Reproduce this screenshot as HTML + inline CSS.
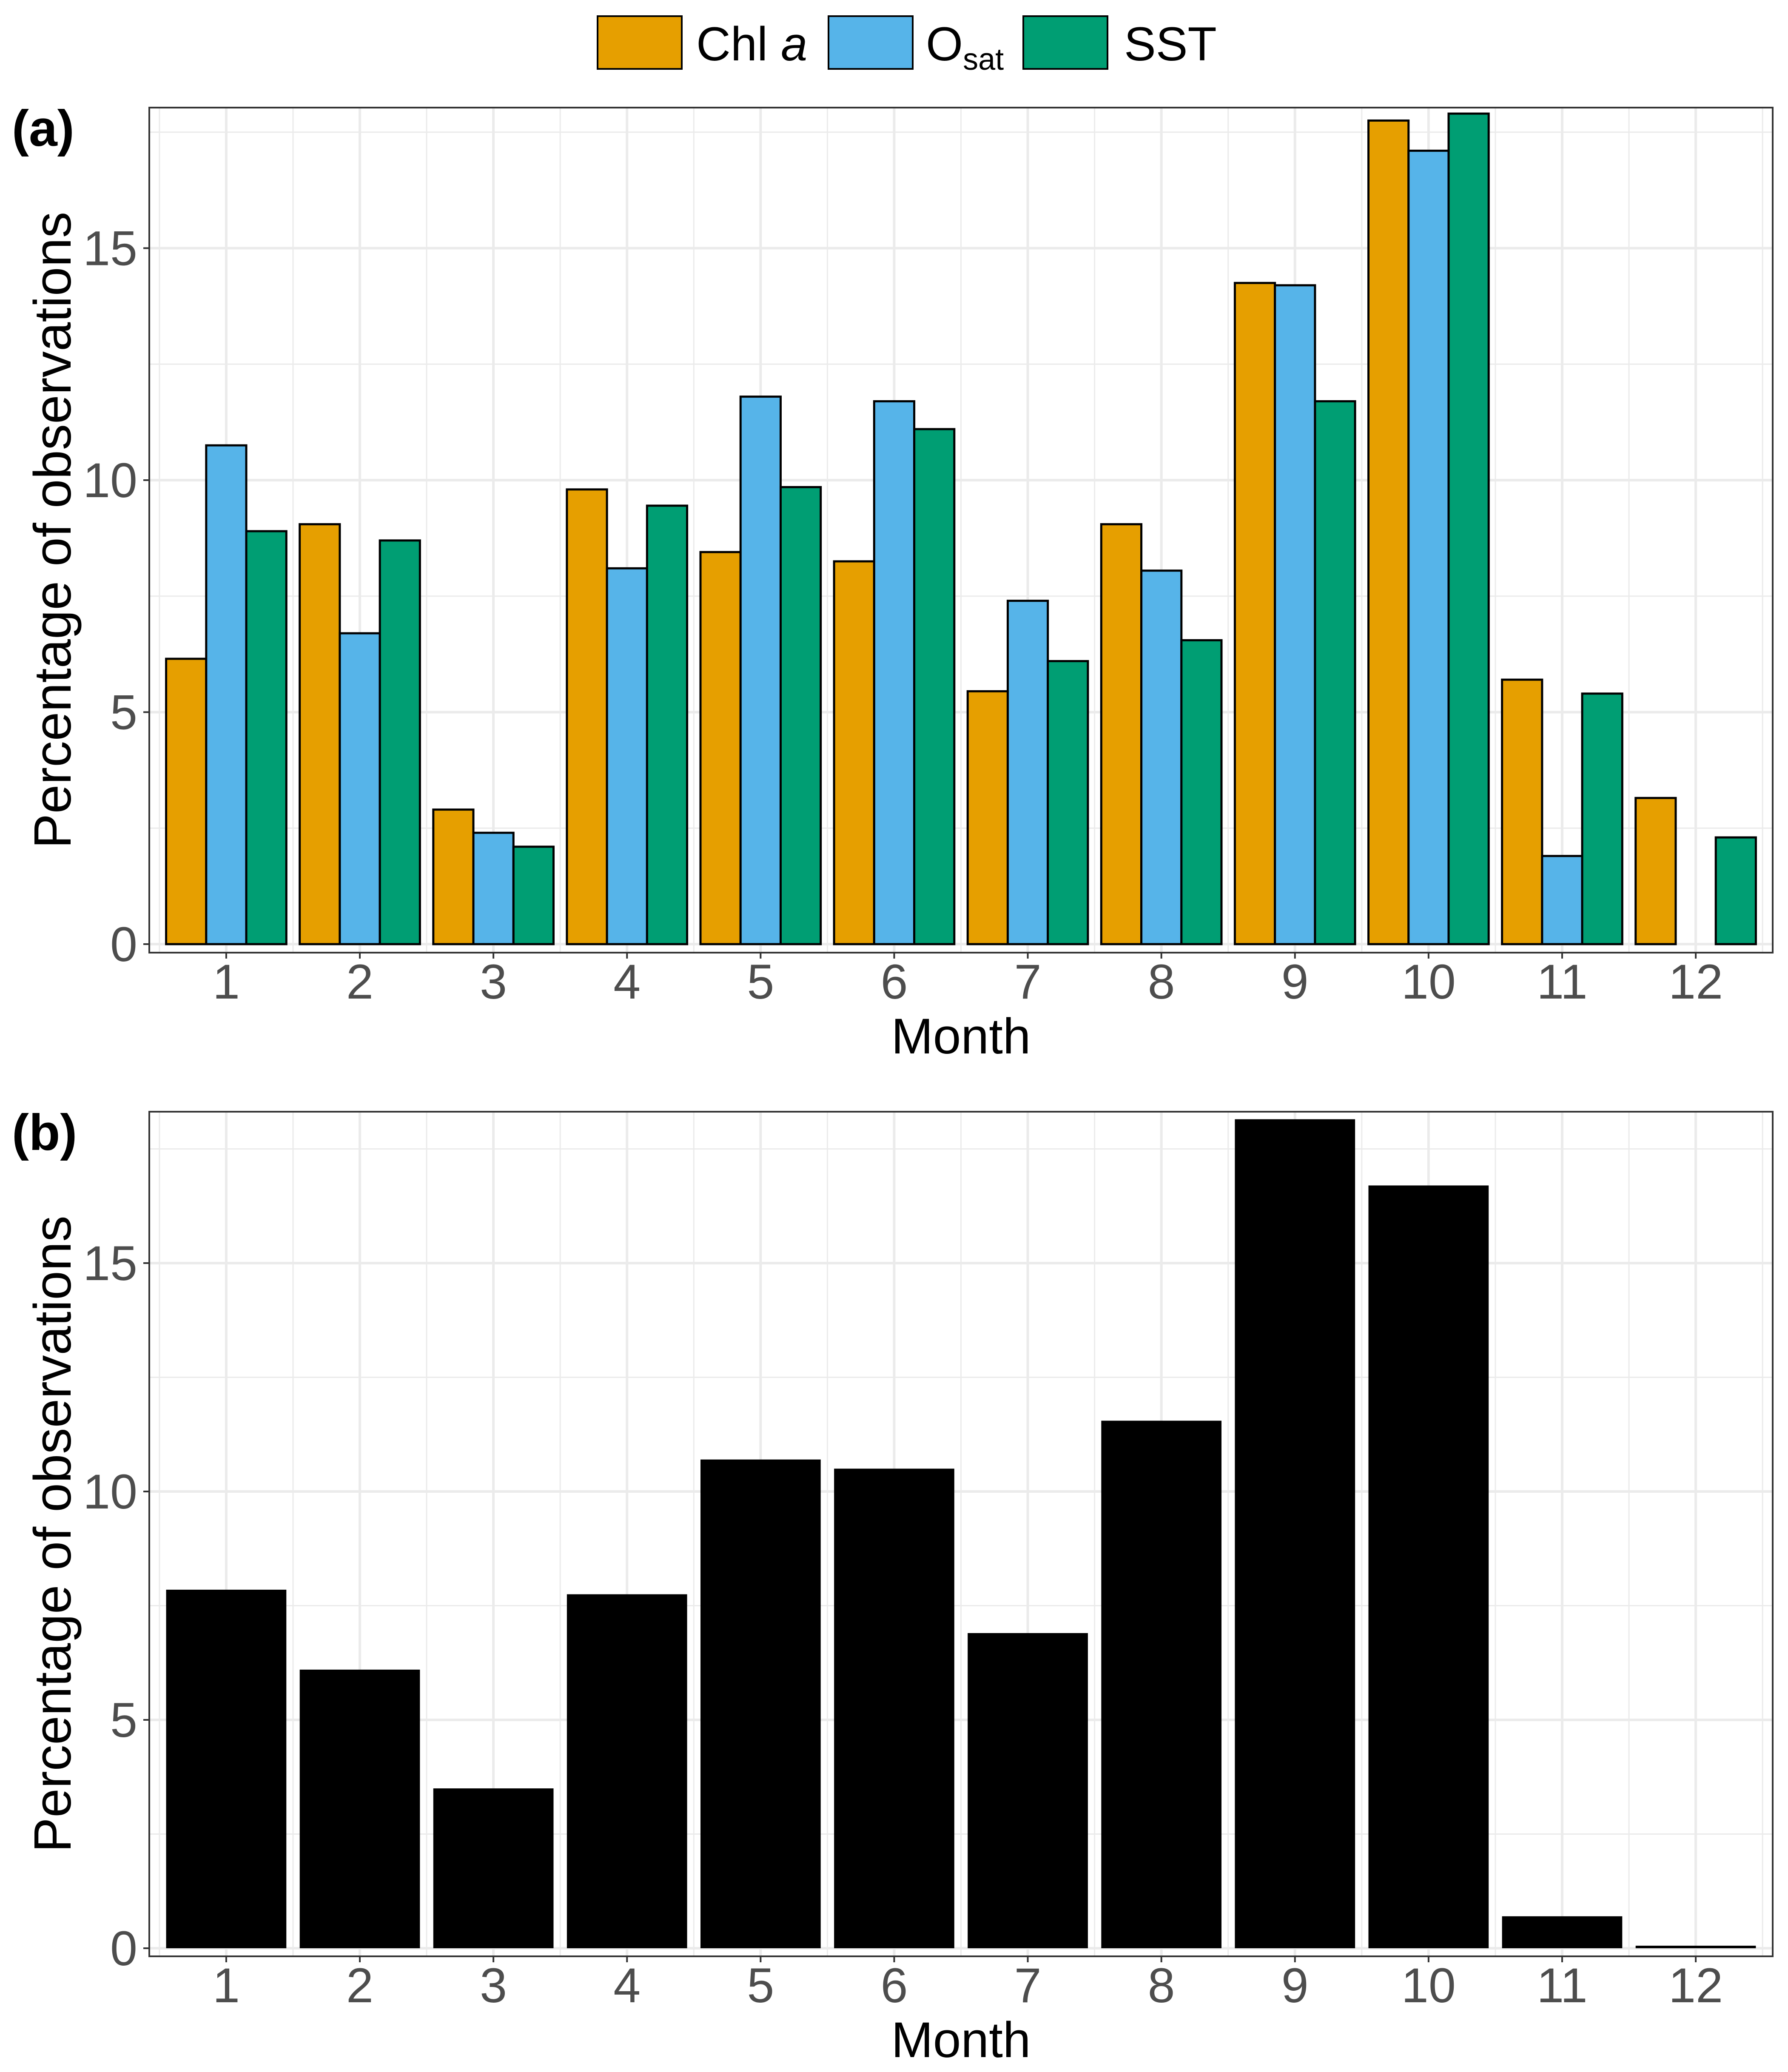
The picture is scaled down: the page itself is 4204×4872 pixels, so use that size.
<!DOCTYPE html>
<html><head><meta charset="utf-8"><style>
html,body{margin:0;padding:0;background:#fff;}
svg{display:block;font-family:"Liberation Sans",Arial,sans-serif;}
</style></head><body>
<svg id="chart" width="4204" height="4872" viewBox="0 0 4204 4872" xmlns="http://www.w3.org/2000/svg">
<rect width="4204" height="4872" fill="#fff"/>
<g>
  <rect x="1405" y="38" width="198" height="124" fill="#E69F00" stroke="#000" stroke-width="4"/>
  <text x="1637" y="142" font-size="112">Chl <tspan font-style="italic">a</tspan></text>
  <rect x="1948" y="38" width="198" height="124" fill="#56B4E9" stroke="#000" stroke-width="4"/>
  <text x="2177" y="142" font-size="112">O<tspan font-size="72" dy="22">sat</tspan></text>
  <rect x="2406" y="38" width="198" height="124" fill="#009E73" stroke="#000" stroke-width="4"/>
  <text x="2643" y="142" font-size="112">SST</text>
</g>
<g id="pa"></g>
<g id="pb"></g>
</svg>
<script>
const months = [1,2,3,4,5,6,7,8,9,10,11,12];
const chlA = [6.15,9.05,2.9,9.8,8.45,8.25,5.45,9.05,14.25,17.75,5.7,3.15];
const oSat = [10.75,6.7,2.4,8.1,11.8,11.7,7.4,8.05,14.2,17.1,1.9,0];
const sst = [8.9,8.7,2.1,9.45,9.85,11.1,6.1,6.55,11.7,17.9,5.4,2.3];
const totalObs = [7.85,6.1,3.5,7.75,10.7,10.5,6.9,11.55,18.15,16.7,0.7,0.05];
const yTicks = [0,5,10,15];
const yMinor = [2.5,7.5,12.5,17.5];

const NS = "http://www.w3.org/2000/svg";
function mk(parent, tag, attrs, text){
  const e = document.createElementNS(NS, tag);
  for (const k in attrs) e.setAttribute(k, attrs[k]);
  if (text !== undefined) e.textContent = text;
  parent.appendChild(e); return e;
}
const L = 351, R = 4168, X0 = 0.424, X1 = 12.576;
function xs(v){ return L + (v - X0) / (X1 - X0) * (R - L); }
const step = xs(2) - xs(1);

function panel(g, top, bottom, y0px, pxPerUnit, label, drawBars){
  const ys = v => y0px - v * pxPerUnit;
  const bg = mk(g, 'g', {});
  
  
  yMinor.forEach(v => { if (ys(v) > top) mk(bg, 'line', {x1:L, x2:R, y1:ys(v), y2:ys(v), stroke:'#ebebeb', 'stroke-width':3}); });
  for (let m = 1.5; m < 12.6; m++) mk(bg, 'line', {x1:xs(m), x2:xs(m), y1:top, y2:bottom, stroke:'#ebebeb', 'stroke-width':3});
  if (xs(0.5) > L) mk(bg, 'line', {x1:xs(0.5), x2:xs(0.5), y1:top, y2:bottom, stroke:'#ebebeb', 'stroke-width':3});
  yTicks.forEach(v => mk(bg, 'line', {x1:L, x2:R, y1:ys(v), y2:ys(v), stroke:'#ebebeb', 'stroke-width':6}));
  months.forEach(m => mk(bg, 'line', {x1:xs(m), x2:xs(m), y1:top, y2:bottom, stroke:'#ebebeb', 'stroke-width':6}));
  drawBars(g, ys);
  mk(g, 'rect', {x:L, y:top, width:R-L, height:bottom-top, fill:'none', stroke:'#333', 'stroke-width':4});
  yTicks.forEach(v => {
    mk(g, 'line', {x1:L-14, x2:L, y1:ys(v), y2:ys(v), stroke:'#333', 'stroke-width':4});
    const t = mk(g, 'text', {x:L-28, y:ys(v)+40, 'font-size':115, fill:'#4d4d4d', 'text-anchor':'end'}, String(v));
    
    
  });
  months.forEach(m => {
    mk(g, 'line', {x1:xs(m), x2:xs(m), y1:bottom, y2:bottom+14, stroke:'#333', 'stroke-width':4});
    const t = mk(g, 'text', {x:xs(m), y:bottom+108, 'font-size':115, fill:'#4d4d4d', 'text-anchor':'middle'}, String(m));
    
    
  });
  const xt = mk(g, 'text', {x:(L+R)/2, y:bottom+237, 'font-size':118, fill:'#000', 'text-anchor':'middle'}, 'Month');
  
  
  const cy = (top+bottom)/2;
  const yt = mk(g, 'text', {x:0, y:0, 'font-size':123, fill:'#000', 'text-anchor':'middle', transform:`translate(166,${cy}) rotate(-90)`}, 'Percentage of observations');
  
  
  const pl = mk(g, 'text', {x:28, y:top+90, 'font-size':120, 'font-weight':'bold', fill:'#000'}, label);
  
  
}

panel(document.getElementById('pa'), 253, 2240, 2220, 109.1, '(a)', (g, ys) => {
  const series = [chlA, oSat, sst];
  const cols = ['#E69F00', '#56B4E9', '#009E73'];
  const names = ['bar-chl', 'bar-osat', 'bar-sst'];
  const bw = step * 0.9 / 3;
  months.forEach((m, i) => {
    series.forEach((s, j) => {
      const x = xs(m) - step * 0.45 + j * bw;
      const r = mk(g, 'rect', {x:x, y:ys(s[i]), width:bw, height:ys(0)-ys(s[i]), fill:cols[j], stroke:'#000', 'stroke-width':5});
      
      
    });
  });
});

panel(document.getElementById('pb'), 2614, 4600, 4581, 107.4, '(b)', (g, ys) => {
  months.forEach((m, i) => {
    const h = Math.max(ys(0) - ys(totalObs[i]), 6);
    const r = mk(g, 'rect', {x:xs(m) - step*0.45, y:ys(0) - h, width:step*0.9, height:h, fill:'#000'});
    
    
  });
});
</script>
</body></html>
